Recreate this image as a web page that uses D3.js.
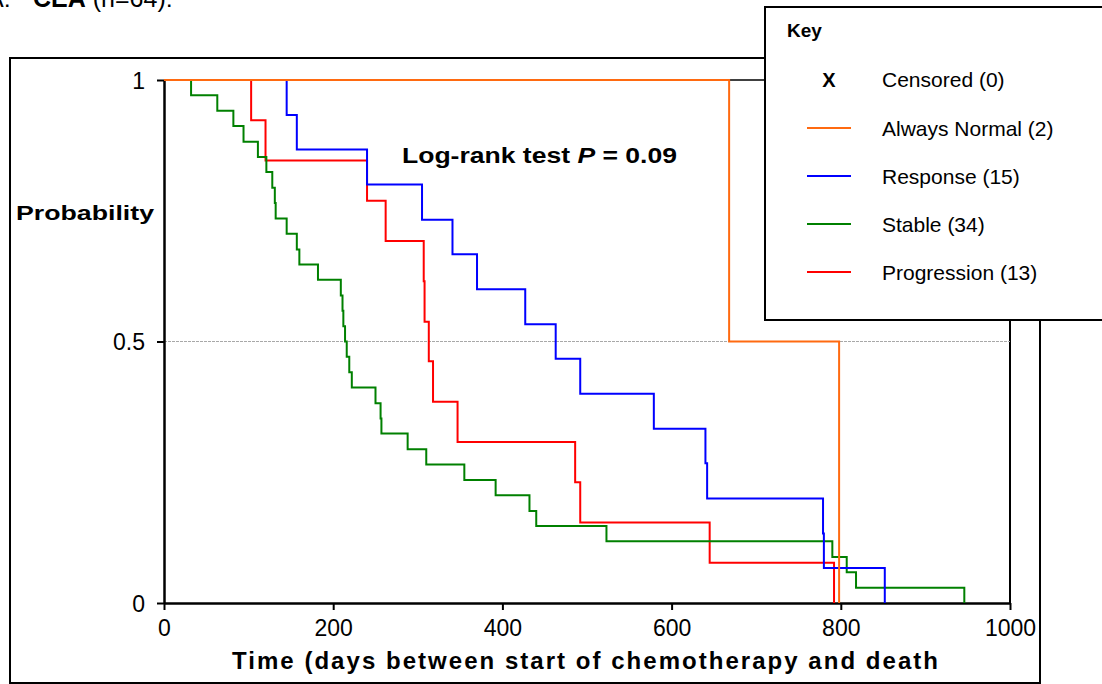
<!DOCTYPE html>
<html>
<head>
<meta charset="utf-8">
<script src="https://cdn.jsdelivr.net/npm/d3@7"></script>
<style>
  html, body { margin: 0; padding: 0; background: #fff; }
  svg { display: block; font-family: Arial, "Liberation Sans", sans-serif; }
</style>
</head>
<body>
<svg id="chart" width="1102" height="684"></svg>
<script>
// ---- Data (Kaplan-Meier steps: event time in days, survival after the event) ----
const seriesNames = ["Always Normal", "Response", "Stable", "Progression"];
const seriesCounts = [2, 15, 34, 13];

const normalTimes = [668, 798];
const normalSurv  = [0.5, 0];

const responseTimes = [145, 157, 240, 305, 341, 370, 427, 463, 492, 579, 640, 642, 779, 780, 852];
const responseSurv  = [0.933, 0.867, 0.800, 0.733, 0.667, 0.600, 0.533, 0.467, 0.400, 0.333, 0.267, 0.200, 0.133, 0.067, 0];

const stableTimes = [32, 63, 82, 94, 111, 121, 128, 131, 132, 145, 157, 160, 182, 209, 211, 212, 214, 216, 219, 222, 250, 256, 257, 288, 310, 355, 392, 432, 440, 523, 790, 807, 818, 946];
const stableSurv  = [0.971, 0.941, 0.912, 0.882, 0.853, 0.824, 0.794, 0.765, 0.735, 0.706, 0.676, 0.647, 0.618, 0.588, 0.559, 0.529, 0.500, 0.471, 0.441, 0.412, 0.382, 0.353, 0.324, 0.294, 0.265, 0.235, 0.206, 0.176, 0.147, 0.118, 0.088, 0.059, 0.029, 0];

const progressionTimes = [103, 120, 240, 262, 307, 308, 313, 318, 347, 486, 492, 645, 792];
const progressionSurv  = [0.923, 0.846, 0.769, 0.692, 0.615, 0.538, 0.462, 0.385, 0.308, 0.231, 0.154, 0.077, 0];

const xTicks = [0, 200, 400, 600, 800, 1000];
const yTicks = [0, 0.5, 1];
const yTickLabels = ["0", "0.5", "1"];

const colors = { "Always Normal": "#ff6a10", "Response": "#0000ff", "Stable": "#008000", "Progression": "#ff0000" };

// ---- Layout ----
const svg = d3.select("#chart");
const x = d3.scaleLinear().domain([0, 1000]).range([164, 1010]);
const y = d3.scaleLinear().domain([0, 1]).range([603, 80]);

// Outer frame
svg.append("rect").attr("x", 10).attr("y", 58).attr("width", 1030).attr("height", 625)
  .attr("fill", "none").attr("stroke", "#000").attr("stroke-width", 2);

// Top-left caption (cut off at the top edge, as in the reference)
const cap = svg.append("text").attr("y", 7).attr("font-size", 25).attr("fill", "#000");
cap.append("tspan").attr("x", -13).text("A:");
cap.append("tspan").attr("x", 33).attr("font-weight", "bold").text("CEA");
cap.append("tspan").text(" (n=64):");

// Plot area box (top & right)
svg.append("line").attr("x1", x(0)).attr("x2", x(1000)).attr("y1", y(1)).attr("y2", y(1))
  .attr("stroke", "#000").attr("stroke-width", 1.5);
svg.append("line").attr("x1", x(1000)).attr("x2", x(1000)).attr("y1", y(1)).attr("y2", y(0))
  .attr("stroke", "#000").attr("stroke-width", 2);

// Gridline at 0.5
svg.append("line").attr("x1", x(0)).attr("x2", x(1000)).attr("y1", y(0.5)).attr("y2", y(0.5))
  .attr("stroke", "#a8a8a8").attr("stroke-width", 1).attr("stroke-dasharray", "3,1");

// Axes
const yAxis = d3.axisLeft(y).tickValues(yTicks).tickSize(7).tickSizeOuter(0)
  .tickPadding(12).tickFormat((d, i) => yTickLabels[i]);
const gy = svg.append("g").attr("transform", `translate(${x(0)},0)`).call(yAxis);
const xAxis = d3.axisBottom(x).tickValues(xTicks).tickSize(7).tickSizeOuter(0)
  .tickPadding(10).tickFormat(d3.format("d"));
const gx = svg.append("g").attr("transform", `translate(0,${y(0)})`).call(xAxis);
[gx, gy].forEach(g => {
  g.select(".domain").attr("stroke", "#000").attr("stroke-width", 2.5);
  g.selectAll(".tick line").attr("stroke", "#000").attr("stroke-width", 2);
  g.selectAll(".tick text").attr("font-size", 23).attr("fill", "#000")
    .attr("font-family", "Arial, 'Liberation Sans', sans-serif");
});
gy.selectAll(".tick text").attr("dy", "0.36em");

// Curves
const line = d3.line().x(d => x(d[0])).y(d => y(d[1])).curve(d3.curveStepAfter);
function stepPoints(times, surv) {
  const pts = [[0, 1]];
  times.forEach((t, i) => pts.push([t, surv[i]]));
  return pts;
}
const curves = [
  { name: "Progression", times: progressionTimes, surv: progressionSurv },
  { name: "Stable", times: stableTimes, surv: stableSurv },
  { name: "Response", times: responseTimes, surv: responseSurv },
  { name: "Always Normal", times: normalTimes, surv: normalSurv }
];
curves.forEach(c => {
  svg.append("path").datum(stepPoints(c.times, c.surv)).attr("d", line)
    .attr("fill", "none").attr("stroke", colors[c.name]).attr("stroke-width", 2)
    .attr("stroke-linejoin", "miter");
});

// Labels
svg.append("text").attr("x", 16).attr("y", 220).attr("font-size", 21).attr("font-weight", "bold")
  .attr("textLength", 138).attr("lengthAdjust", "spacingAndGlyphs").text("Probability");

const lr = svg.append("text").attr("x", 402).attr("y", 163).attr("font-size", 22).attr("font-weight", "bold")
  .attr("textLength", 275).attr("lengthAdjust", "spacingAndGlyphs");
lr.append("tspan").text("Log-rank test ");
lr.append("tspan").attr("font-style", "italic").text("P");
lr.append("tspan").text(" = 0.09");

svg.append("text").attr("x", 232).attr("y", 669).attr("font-size", 24).attr("font-weight", "bold")
  .attr("textLength", 706).attr("lengthAdjust", "spacing")
  .text("Time (days between start of chemotherapy and death");

// Legend
const lg = svg.append("g");
lg.append("rect").attr("x", 765).attr("y", 7).attr("width", 345).attr("height", 313)
  .attr("fill", "#fff").attr("stroke", "#000").attr("stroke-width", 2);
lg.append("text").attr("x", 787).attr("y", 37).attr("font-size", 19).attr("font-weight", "bold").text("Key");
lg.append("text").attr("x", 829).attr("y", 87).attr("font-size", 20).attr("font-weight", "bold")
  .attr("text-anchor", "middle").text("X");
lg.append("text").attr("x", 882).attr("y", 87).attr("font-size", 21).text("Censored (0)");
const legendY = [128, 176, 224, 272];
seriesNames.forEach((n, i) => {
  lg.append("line").attr("x1", 807).attr("x2", 851).attr("y1", legendY[i]).attr("y2", legendY[i])
    .attr("stroke", colors[n]).attr("stroke-width", 2);
  lg.append("text").attr("x", 882).attr("y", legendY[i] + 8).attr("font-size", 21)
    .text(`${n} (${seriesCounts[i]})`);
});
</script>
</body>
</html>
